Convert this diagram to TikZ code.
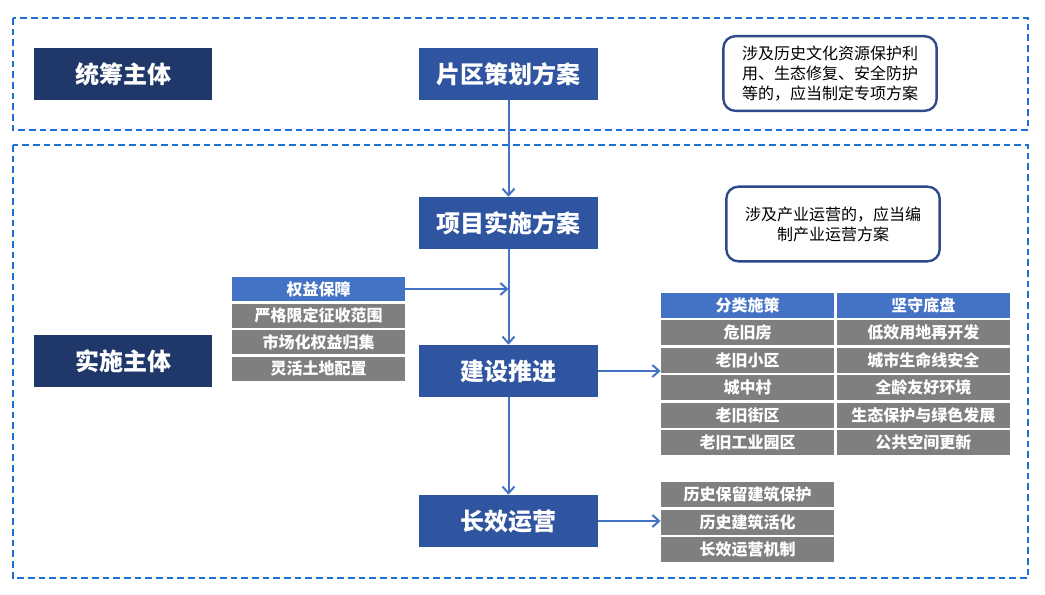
\documentclass[tikz,border=0pt]{standalone}
\usepackage{fontspec}
\setmainfont{Noto Sans CJK SC}
\usetikzlibrary{
    positioning,  % For stacking the cells (below=of)
    arrows.meta   % For the barb arrow tips
}

\definecolor{navyfill}{RGB}{31,56,105}
\definecolor{stagefill}{RGB}{47,84,160}
\definecolor{headfill}{RGB}{68,114,196}
\definecolor{cellfill}{RGB}{127,127,127}
\definecolor{zoneline}{RGB}{30,110,215}
\definecolor{noteline}{RGB}{47,74,138}
\definecolor{flowline}{RGB}{68,114,196}

\begin{document}
\begin{tikzpicture}[
    % one unit = one pixel of the layout, y grows downwards
    x=0.75pt, y=-0.75pt,
    node distance=1.5pt and 1.5pt,
    % dashed frames of the two zones
    zone/.style={
        draw=zoneline, line width=1.5pt, dash pattern=on 5pt off 3pt
    },
    % dark boxes on the left
    subject/.style={
        fill=navyfill, text=white, inner sep=0pt,
        minimum width=134pt, minimum height=39pt,
        font=\bfseries\fontsize{18}{20}\selectfont
    },
    % blue boxes of the main flow
    stage/.style={subject, fill=stagefill},
    % grey cells of the lists
    cell/.style={
        fill=cellfill, text=white, inner sep=0pt,
        minimum width=130pt, minimum height=18.75pt,
        font=\bfseries\fontsize{12}{14}\selectfont
    },
    headcell/.style={cell, fill=headfill},
    % rounded remarks
    remark/.style={
        draw=noteline, line width=1.8pt, rounded corners=9pt,
        align=center, inner sep=0pt,
        minimum width=160pt, minimum height=56pt,
        font=\fontsize{12}{15}\selectfont
    },
    flow/.style={
        draw=flowline, line width=1.5pt,
        -{Straight Barb[length=5pt, width=9pt, line width=1.5pt]}
    }
]
    \useasboundingbox (0,0) rectangle (1045,595);

    % 1. The two zones
    \draw[zone] (13,18) rectangle (1028,130);
    \draw[zone] (13,145) rectangle (1028,578);

    % 2. Subjects and main stages
    \node[subject] (overall) at (123,74) {统筹主体};
    \node[subject] (executor) at (123,361) {实施主体};

    \node[stage] (plan) at (508.5,74) {片区策划方案};
    \node[stage] (project) at (508.5,223) {项目实施方案};
    \node[stage] (build) at (508.5,371) {建设推进};
    \node[stage] (operate) at (508.5,521) {长效运营};

    % 3. Remarks
    \node[remark] (plannote) at (830,73.5) {涉及历史文化资源保护利\\用、生态修复、安全防护\\等的，应当制定专项方案};
    \node[remark] (projectnote) at (833,224) {涉及产业运营的，应当编\\制产业运营方案};

    % 4. Rights list
    \node[headcell, minimum height=18pt] (rights) at (318.5,289) {权益保障};
    \node[cell, minimum height=18pt, below=of rights] (limit) {严格限定征收范围};
    \node[cell, minimum height=18pt, below=of limit] (market) {市场化权益归集};
    \node[cell, minimum height=18pt, below=of market] (land) {灵活土地配置};

    % 5. Classified measures and bottom lines
    \node[headcell] (sorting) at (747.5,305) {分类施策};
    \node[cell, below=of sorting] (danger) {危旧房};
    \node[cell, below=of danger] (oldestate) {老旧小区};
    \node[cell, below=of oldestate] (village) {城中村};
    \node[cell, below=of village] (oldstreet) {老旧街区};
    \node[cell, below=of oldstreet] (oldpark) {老旧工业园区};

    \node[headcell, right=of sorting] (baseline) {坚守底盘};
    \node[cell, below=of baseline] (lowuse) {低效用地再开发};
    \node[cell, below=of lowuse] (lifeline) {城市生命线安全};
    \node[cell, below=of lifeline] (allage) {全龄友好环境};
    \node[cell, below=of allage] (ecology) {生态保护与绿色发展};
    \node[cell, below=of ecology] (public) {公共空间更新};

    % 6. Operation list
    \node[cell] (heritage) at (747.5,494.5) {历史保留建筑保护};
    \node[cell, below=of heritage] (revival) {历史建筑活化};
    \node[cell, below=of revival] (mechanism) {长效运营机制};

    % 7. Connectors
    \draw[flow] (plan) -- (project);
    \draw[flow] (project) -- (build);
    \draw[flow] (build) -- (operate);
    \draw[flow] (rights.east) -- (rights.east -| project.south);
    \draw[flow] (build.east) -- (build.east -| danger.west);
    \draw[flow] (operate.east) -- (operate.east -| revival.west);

\end{tikzpicture}
\end{document}
